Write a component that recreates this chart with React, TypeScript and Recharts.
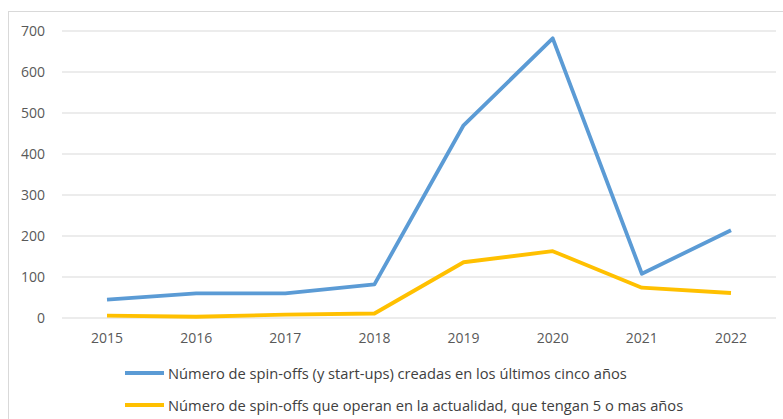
import React from "react";
import { LineChart, Line, XAxis, YAxis, CartesianGrid, Legend } from "recharts";

const years = ["2015", "2016", "2017", "2018", "2019", "2020", "2021", "2022"];
const creadas = [45, 60, 60, 82, 470, 682, 108, 214];
const operan = [6, 3, 8, 11, 136, 163, 74, 61];
const yTicks = [0, 100, 200, 300, 400, 500, 600, 700];
const seriesNames = [
  "Número de spin-offs (y start-ups) creadas en los últimos cinco años",
  "Número de spin-offs que operan en la actualidad, que tengan 5 o mas años",
];
const seriesColors = ["#5B9BD5", "#FFC000"];

const data = years.map((y, i) => ({ year: y, creadas: creadas[i], operan: operan[i] }));

const FONT = "'Open Sans', sans-serif";

const LegendContent = () => (
  <div style={{ marginLeft: 116, fontFamily: FONT, fontSize: 14.7, color: "#404040" }}>
    {seriesNames.map((n, i) => (
      <div key={n} style={{ height: 32, display: "flex", alignItems: "center", whiteSpace: "nowrap" }}>
        <span style={{ display: "inline-block", width: 39, height: 4, background: seriesColors[i], marginRight: 4 }} />
        <span>{n}</span>
      </div>
    ))}
  </div>
);

export default function App() {
  return (
    <div style={{ position: "absolute", left: 8, top: 11, width: 775, height: 408, borderTop: "1px solid #d9d9d9", borderLeft: "1px solid #d9d9d9", overflow: "hidden" }}>
      <LineChart width={775} height={409} data={data} margin={{ top: 19, right: 8, bottom: 0, left: 0 }}>
        <CartesianGrid vertical={false} stroke="#d9d9d9" />
        <XAxis
          dataKey="year"
          axisLine={false}
          tickLine={false}
          tickSize={0}
          tickMargin={15}
          height={39}
          padding={{ left: 45, right: 45 }}
          tick={{ fill: "#595959", fontSize: 14, fontFamily: FONT }}
        />
        <YAxis
          domain={[0, 700]}
          ticks={yTicks}
          axisLine={false}
          tickLine={false}
          tickSize={0}
          tickMargin={17}
          width={53}
          tick={{ fill: "#595959", fontSize: 14, fontFamily: FONT }}
        />
        <Legend verticalAlign="bottom" height={64} content={<LegendContent />} wrapperStyle={{ left: 0, width: 775 }} />
        <Line dataKey="creadas" name={seriesNames[0]} stroke={seriesColors[0]} strokeWidth={3.8} dot={false} isAnimationActive={false} strokeLinejoin="round" />
        <Line dataKey="operan" name={seriesNames[1]} stroke={seriesColors[1]} strokeWidth={3.8} dot={false} isAnimationActive={false} strokeLinejoin="round" />
      </LineChart>
    </div>
  );
}
